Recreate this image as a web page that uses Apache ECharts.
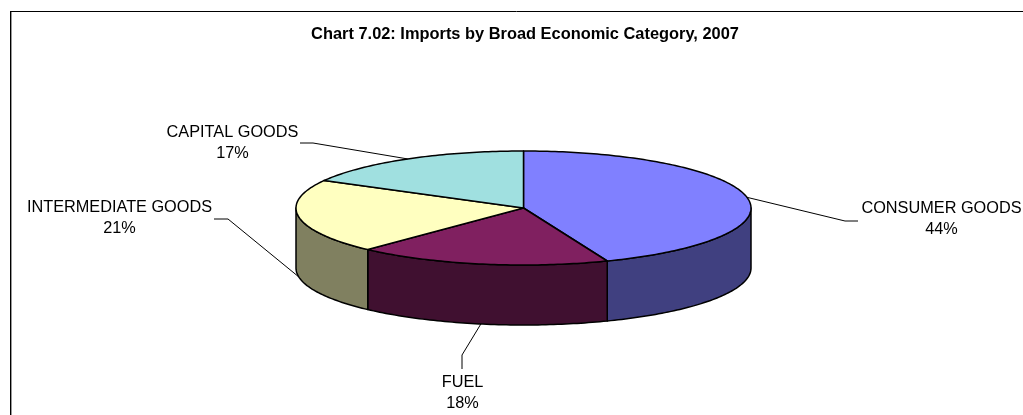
<!DOCTYPE html>
<html lang="en">
<head>
    <meta charset="UTF-8">
    <title>Imports by Broad Economic Category, 2007</title>
    <script src="https://cdn.jsdelivr.net/npm/echarts@6/dist/echarts.min.js"></script>
    <style>
        *{
            margin: 0;
            padding: 0;
        }
        body{
            background: #fff;
            overflow: hidden;
        }
        .container{
            width: 1023px;
            height: 415px;
        }
    </style>
</head>
<body>
<div class="container"></div>
<script>
    // values
    const categories = ['CONSUMER GOODS', 'FUEL', 'INTERMEDIATE GOODS', 'CAPITAL GOODS'];
    const shares = [44, 18, 21, 17];
    const topColors = ['#8080ff', '#802060', '#ffffc0', '#a0e0e0'];
    const wallColors = ['#404080', '#401030', '#808060', '#507070'];

    // pie shape on the page
    const cx = 523.5, cy = 208, rx = 227.5, ry = 57, depth = 60;
    const font = 'Liberation Sans, Arial, sans-serif';

    // where the label text sits and how its leader line bends
    const labelBoxes = [
        {x: 941.5, y: 209, elbow: [845, 221], end: [858, 221]},
        {x: 462.5, y: 383, elbow: [462, 355], end: [462, 369]},
        {x: 119.5, y: 208, elbow: [228, 219], end: [214, 219]},
        {x: 232.5, y: 133, elbow: [313, 143], end: [300, 143]}
    ];

    // degrees clockwise from 12 o'clock
    let total = shares.reduce((a, b) => a + b, 0);
    let acc = 0;
    let slices = shares.map((v, i) => {
        let start = acc / total * 360;
        acc += v;
        return [start, acc / total * 360, i];
    });

    function rim(deg, drop) {
        let r = deg * Math.PI / 180;
        return [cx + rx * Math.sin(r), cy - ry * Math.cos(r) + (drop || 0)];
    }

    function arc(from, to, drop) {
        let pts = [];
        let n = Math.max(1, Math.ceil(Math.abs(to - from)));
        for (let i = 0; i <= n; i++) {
            pts.push(rim(from + (to - from) * i / n, drop));
        }
        return pts;
    }

    // only the part of the rim between 90 and 270 degrees faces the viewer
    function renderWall(params, api) {
        let from = Math.max(api.value(0), 90);
        let to = Math.min(api.value(1), 270);
        if (to <= from) {
            return {type: 'group', children: []};
        }
        return {
            type: 'polygon',
            shape: {points: arc(from, to, 0).concat(arc(to, from, depth))},
            style: {fill: wallColors[api.value(2)], stroke: '#000', lineWidth: 1.5, lineJoin: 'round'}
        };
    }

    function renderTop(params, api) {
        return {
            type: 'polygon',
            shape: {points: [[cx, cy]].concat(arc(api.value(0), api.value(1), 0))},
            style: {fill: topColors[api.value(2)], stroke: '#000', lineWidth: 1.5, lineJoin: 'round'}
        };
    }

    function renderLabel(params, api) {
        let i = api.value(2);
        let box = labelBoxes[i];
        let mid = (api.value(0) + api.value(1)) / 2;
        let front = mid > 90 && mid < 270;
        return {
            type: 'group',
            children: [{
                type: 'polyline',
                shape: {points: [rim(mid, front ? depth : 0), box.elbow, box.end]},
                style: {fill: null, stroke: '#000', lineWidth: 1}
            }, {
                type: 'text',
                style: {
                    x: box.x, y: box.y,
                    text: categories[i],
                    fill: '#000',
                    font: '16.3px ' + font,
                    align: 'center',
                    verticalAlign: 'middle'
                }
            }, {
                type: 'text',
                style: {
                    x: box.x, y: box.y + 21,
                    text: shares[i] + '%',
                    fill: '#000',
                    font: '16.3px ' + font,
                    align: 'center',
                    verticalAlign: 'middle'
                }
            }]
        };
    }

    let mycharts = echarts.init(document.querySelector('.container'), null, {renderer: 'canvas'});

    mycharts.setOption({
        animation: false,
        backgroundColor: '#fff',
        title: {
            text: 'Chart 7.02: Imports by Broad Economic Category, 2007',
            left: 520,
            top: 21.5,
            textAlign: 'center',
            textStyle: {fontFamily: font, fontSize: 16.4, fontWeight: 'bold', color: '#000'}
        },
        graphic: [
            {type: 'line', shape: {x1: 10.5, y1: 11, x2: 10.5, y2: 415}, style: {stroke: '#000', lineWidth: 1}},
            {type: 'line', shape: {x1: 11.5, y1: 12, x2: 11.5, y2: 415}, style: {stroke: '#999', lineWidth: 1}},
            {type: 'line', shape: {x1: 10, y1: 11.5, x2: 1023, y2: 11.5}, style: {stroke: '#000', lineWidth: 1}}
        ],
        series: [
            {type: 'custom', coordinateSystem: 'none', data: slices, renderItem: renderWall, z: 1, silent: true},
            {type: 'custom', coordinateSystem: 'none', data: slices, renderItem: renderTop, z: 2, silent: true},
            {type: 'custom', coordinateSystem: 'none', data: slices, renderItem: renderLabel, z: 3, silent: true}
        ]
    });
</script>
</body>
</html>
